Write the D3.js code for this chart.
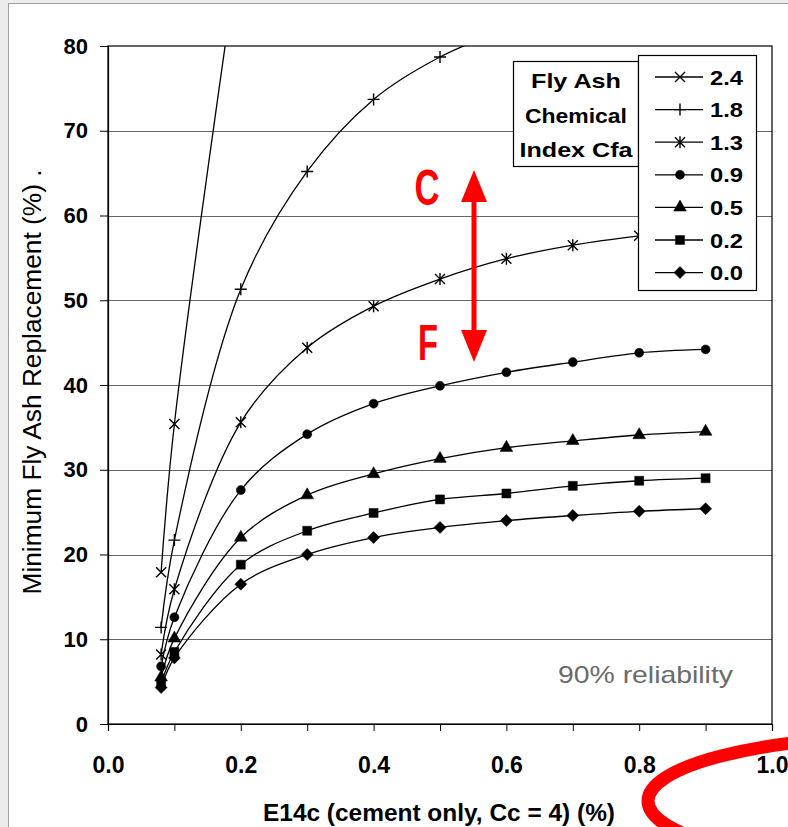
<!DOCTYPE html>
<html>
<head>
<meta charset="utf-8">
<script src="https://cdn.jsdelivr.net/npm/d3@7"></script>
<style>
  body { margin: 0; background: #ececec; }
  svg { display: block; }
</style>
</head>
<body>
<div id="chart"></div>
<script>
// values
var xValues = [0.08, 0.1, 0.2, 0.3, 0.4, 0.5, 0.6, 0.7, 0.8, 0.9];
var cfa24 = [17.9, 35.4, 93.0];
var cfa18 = [11.4, 21.7, 51.3, 65.2, 73.7, 78.7, 82.0];
var cfa13 = [8.2, 15.9, 35.6, 44.4, 49.3, 52.5, 54.9, 56.5, 57.6, 58.4];
var cfa09 = [6.8, 12.6, 27.6, 34.2, 37.8, 39.9, 41.5, 42.7, 43.8, 44.2];
var cfa05 = [5.5, 10.1, 22.0, 27.0, 29.5, 31.3, 32.6, 33.4, 34.1, 34.5];
var cfa02 = [4.8, 8.5, 18.8, 22.8, 24.9, 26.5, 27.2, 28.1, 28.7, 29.0];
var cfa00 = [4.3, 7.8, 16.5, 20.0, 22.0, 23.2, 24.0, 24.6, 25.1, 25.4];
var seriesNames = ['2.4', '1.8', '1.3', '0.9', '0.5', '0.2', '0.0'];
var markerTypes = ['x', 'plus', 'star', 'circle', 'triangle', 'square', 'diamond'];
var xTicks = [0, 0.1, 0.2, 0.3, 0.4, 0.5, 0.6, 0.7, 0.8, 0.9, 1.0];
var yTicks = [0, 10, 20, 30, 40, 50, 60, 70, 80];
var legendTitle = ['Fly Ash', 'Chemical', 'Index Cfa'];

var seriesValues = [cfa24, cfa18, cfa13, cfa09, cfa05, cfa02, cfa00];

var width = 788, height = 827;
var font = 'Liberation Sans, Arial, sans-serif';
var svg = d3.select('#chart').append('svg')
  .attr('width', width)
  .attr('height', height);

// white sheet with a thin frame
svg.append('rect')
  .attr('x', 8.5).attr('y', 3.5)
  .attr('width', 800).attr('height', 840)
  .attr('fill', '#fff')
  .attr('stroke', '#a0a0a0');

var x = d3.scaleLinear().domain([0, 1]).range([108, 772]);
var y = d3.scaleLinear().domain([0, 80]).range([724, 46]);

svg.append('clipPath').attr('id', 'plotclip')
  .append('rect')
  .attr('x', x(0)).attr('y', y(80))
  .attr('width', x(1) - x(0)).attr('height', y(0) - y(80));

// gridlines
svg.append('g').selectAll('line')
  .data(yTicks.filter(function (d) { return d > 0 && d < 80; }))
  .enter().append('line')
  .attr('x1', x(0)).attr('x2', x(1))
  .attr('y1', function (d) { return Math.round(y(d)) + 0.5; })
  .attr('y2', function (d) { return Math.round(y(d)) + 0.5; })
  .attr('stroke', '#666')
  .attr('stroke-width', 1);

// plot border
svg.append('rect')
  .attr('x', x(0)).attr('y', y(80))
  .attr('width', x(1) - x(0)).attr('height', y(0) - y(80))
  .attr('fill', 'none')
  .attr('stroke', '#000')
  .attr('stroke-width', 1.2);

var xAxis = d3.axisBottom(x)
  .tickValues(xTicks)
  .tickSize(7)
  .tickPadding(26)
  .tickFormat(function (d, i) { return i % 2 === 0 ? d3.format('.1f')(d) : ''; });

var yAxis = d3.axisLeft(y)
  .tickValues(yTicks)
  .tickSize(8)
  .tickPadding(12)
  .tickFormat(d3.format('d'));

var gx = svg.append('g')
  .attr('transform', 'translate(0,' + y(0) + ')')
  .call(xAxis);
gx.selectAll('text')
  .attr('font-family', font)
  .attr('font-weight', 'bold')
  .attr('font-size', 23)
  .attr('fill', '#000');

var gy = svg.append('g')
  .attr('transform', 'translate(' + x(0) + ',0)')
  .call(yAxis);
gy.selectAll('text')
  .attr('font-family', font)
  .attr('font-weight', 'bold')
  .attr('font-size', 22)
  .attr('fill', '#000');
svg.selectAll('.domain').attr('stroke', '#000').attr('stroke-width', 1.2);
svg.selectAll('.tick line').attr('stroke', '#000');

// axis titles
svg.append('text')
  .attr('x', 439).attr('y', 821)
  .attr('text-anchor', 'middle')
  .attr('font-family', font)
  .attr('font-weight', 'bold')
  .attr('font-size', 23)
  .attr('textLength', 352)
  .attr('lengthAdjust', 'spacingAndGlyphs')
  .text('E14c (cement only, Cc = 4) (%)');

svg.append('text')
  .attr('transform', 'translate(41,382) rotate(-90)')
  .attr('text-anchor', 'middle')
  .attr('font-family', font)
  .attr('font-size', 25)
  .attr('textLength', 425)
  .attr('lengthAdjust', 'spacingAndGlyphs')
  .text('Minimum Fly Ash Replacement (%)  .');

svg.append('text')
  .attr('x', 733).attr('y', 683)
  .attr('text-anchor', 'end')
  .attr('font-family', font)
  .attr('font-size', 24)
  .attr('fill', '#6b6b6b')
  .attr('textLength', 175)
  .attr('lengthAdjust', 'spacingAndGlyphs')
  .text('90% reliability');

// series
var line = d3.line()
  .x(function (d) { return x(d[0]); })
  .y(function (d) { return y(d[1]); })
  .curve(d3.curveCatmullRom.alpha(0.5));

function markerPath(type) {
  var s = 5;
  if (type === 'x') return 'M' + -s + ',' + -s + 'L' + s + ',' + s + 'M' + -s + ',' + s + 'L' + s + ',' + -s;
  if (type === 'plus') return 'M' + -6 + ',0L6,0M0,-6L0,6';
  if (type === 'star') return 'M-5,-5L5,5M-5,5L5,-5M0,-6L0,6';
  if (type === 'circle') return d3.symbol(d3.symbolCircle, 64)();
  if (type === 'triangle') return d3.symbol(d3.symbolTriangle, 70)();
  if (type === 'square') return 'M-4.5,-4.5H4.5V4.5H-4.5Z';
  return 'M0,-6L6,0L0,6L-6,0Z';
}
function isStroked(type) { return type === 'x' || type === 'plus' || type === 'star'; }

var plotG = svg.append('g').attr('clip-path', 'url(#plotclip)');
seriesValues.forEach(function (vals, si) {
  var pts = vals.map(function (v, i) { return [xValues[i], v]; });
  plotG.append('path')
    .datum(pts)
    .attr('d', line)
    .attr('fill', 'none')
    .attr('stroke', '#000')
    .attr('stroke-width', 1.3);
  var type = markerTypes[si];
  plotG.selectAll('.m' + si)
    .data(pts)
    .enter().append('path')
    .attr('transform', function (d) { return 'translate(' + x(d[0]) + ',' + y(d[1]) + ')'; })
    .attr('d', markerPath(type))
    .attr('fill', isStroked(type) ? 'none' : '#000')
    .attr('stroke', '#000')
    .attr('stroke-width', isStroked(type) ? 1.4 : 0.5);
});

// legend title box
var titleWidths = [90, 102, 113];
var lt = svg.append('g');
lt.append('rect')
  .attr('x', 513.5).attr('y', 61.5).attr('width', 125).attr('height', 105)
  .attr('fill', '#fff').attr('stroke', '#000').attr('stroke-width', 1.2);
legendTitle.forEach(function (t, i) {
  lt.append('text')
    .attr('x', 576).attr('y', 88 + i * 34.5)
    .attr('text-anchor', 'middle')
    .attr('font-family', font)
    .attr('font-weight', 'bold')
    .attr('font-size', 21)
    .attr('textLength', titleWidths[i])
    .attr('lengthAdjust', 'spacingAndGlyphs')
    .text(t);
});

// legend
var lg = svg.append('g');
lg.append('rect')
  .attr('x', 638.5).attr('y', 55.5).attr('width', 118).attr('height', 235)
  .attr('fill', '#fff').attr('stroke', '#000').attr('stroke-width', 1.2);
seriesNames.forEach(function (name, i) {
  var cy = 77 + i * 32.6;
  var type = markerTypes[i];
  lg.append('line')
    .attr('x1', 655).attr('x2', 703).attr('y1', cy).attr('y2', cy)
    .attr('stroke', '#000').attr('stroke-width', 1.3);
  lg.append('path')
    .attr('transform', 'translate(680,' + cy + ')')
    .attr('d', markerPath(type))
    .attr('fill', isStroked(type) ? 'none' : '#000')
    .attr('stroke', '#000')
    .attr('stroke-width', isStroked(type) ? 1.4 : 0.5);
  lg.append('text')
    .attr('x', 710).attr('y', cy + 7.5)
    .attr('font-family', font)
    .attr('font-weight', 'bold')
    .attr('font-size', 21)
    .attr('textLength', 33)
    .attr('lengthAdjust', 'spacingAndGlyphs')
    .text(name);
});

// red annotations
var red = '#ff0000';
var ann = svg.append('g');
ann.append('rect').attr('x', 471.5).attr('y', 195).attr('width', 5).attr('height', 142).attr('fill', red);
ann.append('path').attr('d', 'M474,170L487,202L461,202Z').attr('fill', red);
ann.append('path').attr('d', 'M474,362L487,330L461,330Z').attr('fill', red);
ann.append('text')
  .attr('x', 427).attr('y', 205)
  .attr('text-anchor', 'middle')
  .attr('font-family', font)
  .attr('font-weight', 'bold')
  .attr('font-size', 50)
  .attr('textLength', 25)
  .attr('lengthAdjust', 'spacingAndGlyphs')
  .attr('fill', red)
  .text('C');
ann.append('text')
  .attr('x', 428).attr('y', 360)
  .attr('text-anchor', 'middle')
  .attr('font-family', font)
  .attr('font-weight', 'bold')
  .attr('font-size', 50)
  .attr('textLength', 20)
  .attr('lengthAdjust', 'spacingAndGlyphs')
  .attr('fill', red)
  .text('F');

ann.append('ellipse')
  .attr('cx', 900).attr('cy', 801)
  .attr('rx', 252).attr('ry', 64)
  .attr('fill', 'none')
  .attr('stroke', red)
  .attr('stroke-width', 13);
</script>
</body>
</html>
